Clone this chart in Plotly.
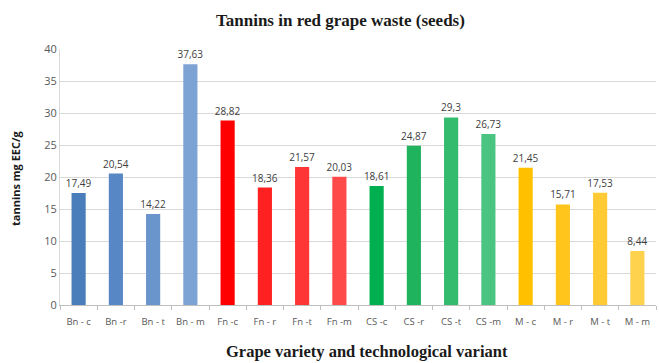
import plotly.graph_objects as go

# Tannin content of red grape seeds by variety and technological variant
categories = ["Bn - c", "Bn -r", "Bn - t", "Bn - m",
              "Fn -c", "Fn - r", "Fn -t", "Fn -m",
              "CS -c", "CS -r", "CS -t", "CS -m",
              "M - c", "M - r", "M - t", "M - m"]
tannins = [17.49, 20.54, 14.22, 37.63,
           28.82, 18.36, 21.57, 20.03,
           18.61, 24.87, 29.30, 26.73,
           21.45, 15.71, 17.53, 8.44]
bar_colors = ["#4a7ebb", "#5787c5", "#6a94cc", "#7ca3d3",
              "#ff0000", "#ff2121", "#ff3636", "#ff4a4a",
              "#00b050", "#1fb35e", "#35bb6e", "#4cc481",
              "#ffc000", "#ffc51c", "#ffca33", "#ffd24d"]
y_ticks = [0, 5, 10, 15, 20, 25, 30, 35, 40]

labels = [f"{v:g}".replace(".", ",") for v in tannins]

W, H = 659, 363

fig = go.Figure(go.Bar(
    x=categories,
    y=tannins,
    marker=dict(color=bar_colors, line=dict(width=0)),
    text=labels,
    textposition="outside",
    constraintext="none",
    cliponaxis=False,
    textfont=dict(family="Open Sans", size=10, color="#404040"),
))

fig.update_layout(
    width=W, height=H,
    margin=dict(l=60, r=3, t=49, b=58),
    paper_bgcolor="white",
    plot_bgcolor="white",
    bargap=0.62,
    showlegend=False,
    xaxis=dict(
        type="category",
        showgrid=False,
        showline=True, linecolor="#bfbfbf", linewidth=1,
        ticks="outside", ticklen=4, tickcolor="#bfbfbf",
        tickson="boundaries",
        tickangle=0,
        ticklabelstandoff=8,
        tickfont=dict(family="Open Sans", size=9.5, color="#595959"),
    ),
    yaxis=dict(
        range=[0, 40],
        tickvals=y_ticks,
        showgrid=True, gridcolor="#d9d9d9", gridwidth=1,
        showline=True, linecolor="#d9d9d9",
        zeroline=False,
        ticks="",
        tickfont=dict(family="Open Sans", size=11, color="#595959"),
    ),
    annotations=[
        dict(text="<b>Tannins in red grape waste (seeds)</b>",
             xref="paper", yref="paper",
             x=(340 - 60) / (W - 63), y=1 + (49 - 20) / (H - 107),
             xanchor="center", yanchor="middle", showarrow=False,
             font=dict(family="Liberation Serif", size=17, color="#1a1a1a")),
        dict(text="<b>Grape variety and technological variant</b>",
             xref="paper", yref="paper",
             x=(367 - 60) / (W - 63), y=-(351 - 305) / (H - 107),
             xanchor="center", yanchor="middle", showarrow=False,
             font=dict(family="Liberation Serif", size=16.5, color="#1a1a1a")),
        dict(text="<b>tannins mg EEC/g</b>",
             xref="paper", yref="paper",
             x=-(60 - 15) / (W - 63), y=(305 - 178) / (H - 107),
             xanchor="center", yanchor="middle", showarrow=False,
             textangle=-90,
             font=dict(family="Open Sans", size=11, color="#1a1a1a")),
    ],
)

fig.write_html("out.html")
